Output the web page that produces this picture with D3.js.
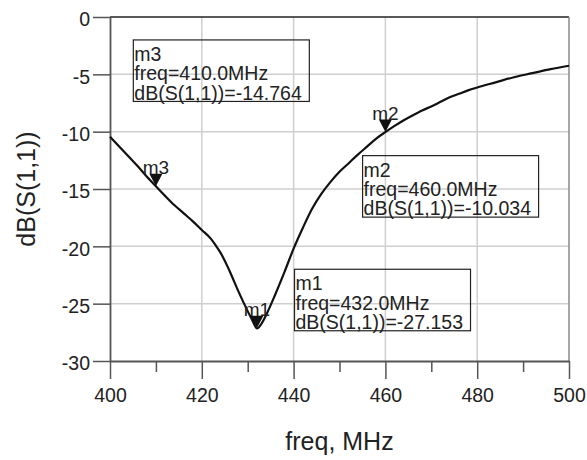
<!DOCTYPE html>
<html>
<head>
<meta charset="utf-8">
<script src="https://cdn.jsdelivr.net/npm/d3@7"></script>
<style>
  html, body { margin: 0; padding: 0; background: #fff; }
  svg { display: block; font-family: "Liberation Sans", Arial, Helvetica, sans-serif; }
</style>
</head>
<body>
<svg id="chart" width="587" height="460"></svg>
<script>
// ---- data ----
const freqs = [400,402,404,406,408,410,412,414,416,418,420,422,423,424,426,428,430,431,432,433,434,436,438,440,442,444,446,448,450,452,454,456,458,460,462,464,466,468,470,472,474,476,478,480,484,488,492,496,500];
const dbS11 = [-10.44,-11.3,-12.15,-13.0,-13.9,-14.76,-15.6,-16.4,-17.1,-17.8,-18.57,-19.35,-19.9,-20.5,-22.1,-23.95,-25.65,-26.45,-27.153,-26.75,-26.0,-24.2,-22.25,-20.2,-18.4,-16.75,-15.45,-14.4,-13.5,-12.75,-12.0,-11.3,-10.6,-10.034,-9.5,-9.0,-8.56,-8.15,-7.8,-7.4,-7.0,-6.7,-6.4,-6.15,-5.7,-5.25,-4.9,-4.55,-4.25];
const xTicks = [400,420,440,460,480,500];
const xMinorTicks = [410,430,450,470,490];
const yTicks = [0,-5,-10,-15,-20,-25,-30];
const markerNames = ["m1","m2","m3"];
const markerFreqs = [432.0,460.0,410.0];
const markerValues = [-27.153,-10.034,-14.764];
const xTitle = "freq, MHz";
const yTitle = "dB(S(1,1))";

// ---- layout (positions of annotation boxes, in data units of top-left corner) ----
const boxAnchors = { m1: [440.2,-22.0], m2: [455.03,-12.09], m3: [405.08,-2.0] };

const svg = d3.select("#chart");
const x = d3.scaleLinear().domain([400,500]).range([110,569]);
const y = d3.scaleLinear().domain([-30,0]).range([361,17]);
const fmt = d => String(d);

// grid
const grid = svg.append("g");
grid.selectAll("line.vg").data(xTicks.slice(1,-1)).join("line")
  .attr("x1", d=>x(d)).attr("x2", d=>x(d)).attr("y1", y(0)).attr("y2", y(-30))
  .attr("stroke", "#cfcfcf").attr("stroke-width", 1.5);
grid.selectAll("line.hg").data(yTicks.slice(1,-1)).join("line")
  .attr("x1", x(400)).attr("x2", x(500)).attr("y1", d=>y(d)).attr("y2", d=>y(d))
  .attr("stroke", "#cfcfcf").attr("stroke-width", 1.5);

// frame: top and right
svg.append("line").attr("x1", x(400)).attr("x2", x(500)).attr("y1", y(0)).attr("y2", y(0))
  .attr("stroke", "#222").attr("stroke-width", 1.3);
svg.append("line").attr("x1", x(500)).attr("x2", x(500)).attr("y1", y(0)).attr("y2", y(-30))
  .attr("stroke", "#8a8a8a").attr("stroke-width", 1.5);

// x axis
const xAxis = svg.append("g").attr("transform", `translate(0,${y(-30)})`)
  .call(d3.axisBottom(x).tickValues(xTicks).tickSize(18).tickSizeOuter(0).tickPadding(9).tickFormat(fmt));
xAxis.select(".domain").attr("stroke", "#555").attr("stroke-width", 1.8);
xAxis.selectAll(".tick line").attr("stroke", "#555").attr("stroke-width", 1.5);
xAxis.selectAll(".tick text").attr("font-size", 19.5).attr("fill", "#222")
  .attr("font-family", "Liberation Sans, Arial, sans-serif");
const xMinor = svg.append("g").attr("transform", `translate(0,${y(-30)})`)
  .call(d3.axisBottom(x).tickValues(xMinorTicks).tickSize(11).tickFormat(""));
xMinor.select(".domain").remove();
xMinor.selectAll(".tick line").attr("stroke", "#555").attr("stroke-width", 1.5);

// y axis
const yAxis = svg.append("g").attr("transform", `translate(${x(400)},0)`)
  .call(d3.axisLeft(y).tickValues(yTicks).tickSize(17).tickSizeOuter(0).tickPadding(3).tickFormat(fmt));
yAxis.select(".domain").attr("stroke", "#555").attr("stroke-width", 1.8);
yAxis.selectAll(".tick line").attr("stroke", "#555").attr("stroke-width", 1.5);
yAxis.selectAll(".tick text").attr("font-size", 19.5).attr("fill", "#222").attr("dy", "0.45em")
  .attr("font-family", "Liberation Sans, Arial, sans-serif");

// axis titles
svg.append("text").attr("x", (x(400)+x(500))/2).attr("y", 450).attr("text-anchor", "middle")
  .attr("font-size", 25).attr("fill", "#222").text(xTitle);
svg.append("text").attr("transform", `translate(35,${(y(0)+y(-30))/2}) rotate(-90)`)
  .attr("text-anchor", "middle").attr("font-size", 25).attr("fill", "#222").text(yTitle);

// curve
const pts = freqs.map((f,i)=>[f, dbS11[i]]);
svg.append("path").datum(pts)
  .attr("d", d3.line().x(d=>x(d[0])).y(d=>y(d[1])).curve(d3.curveMonotoneX))
  .attr("fill", "none").attr("stroke", "#111").attr("stroke-width", 2.2);

// markers
markerNames.forEach((name,i)=>{
  const px = x(markerFreqs[i]), py = y(markerValues[i]);
  svg.append("path")
    .attr("d", `M${px},${py} L${px-6.5},${py-12.5} L${px+6.5},${py-12.5} Z`)
    .attr("fill", "#111");
  svg.append("text").attr("x", px).attr("y", py-12).attr("text-anchor", "middle")
    .attr("font-size", 19).attr("fill", "#222").text(name);

  const a = boxAnchors[name];
  const bx = x(a[0]), by = y(a[1]);
  const g = svg.append("g");
  const lines = [name, `freq=${markerFreqs[i].toFixed(1)}MHz`, `dB(S(1,1))=${markerValues[i].toFixed(3)}`];
  const t = g.selectAll("text").data(lines).join("text")
    .attr("x", bx+1).attr("y", (d,j)=>by+21+j*19.3)
    .attr("font-size", 19.5).attr("fill", "#222").text(d=>d);
  let w = 0;
  t.each(function(){ w = Math.max(w, this.getComputedTextLength()); });
  g.insert("rect", "text").attr("x", bx).attr("y", by).attr("width", Math.max(w+2, 176)).attr("height", 61.5)
    .attr("fill", "none").attr("stroke", "#222").attr("stroke-width", 1.2);
});
</script>
</body>
</html>
